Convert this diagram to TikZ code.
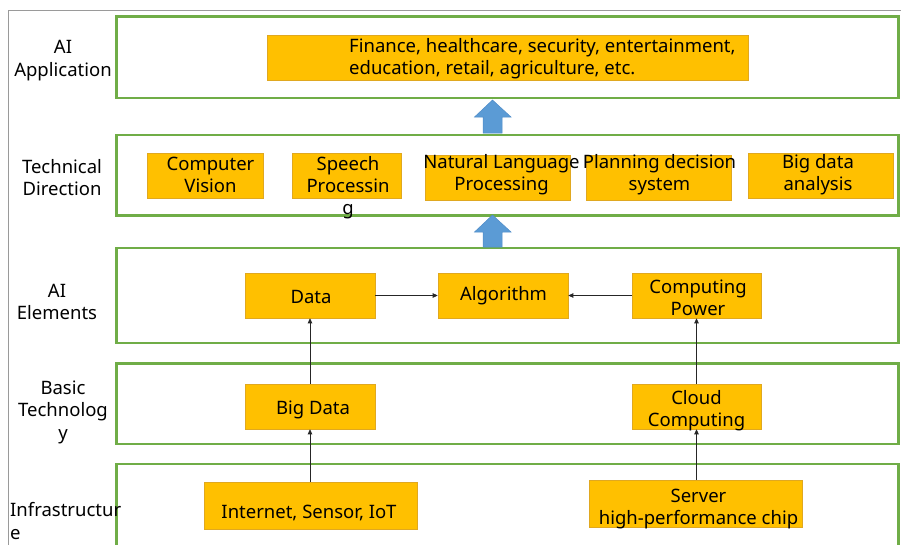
\documentclass[tikz,border=0pt]{standalone}
\usepackage{fontspec}
\setmainfont{Noto Sans}
\usetikzlibrary{arrows.meta}
\definecolor{grn}{HTML}{70AD47}
\definecolor{org}{HTML}{FFC000}
\definecolor{orgline}{HTML}{E0A820}
\definecolor{blu}{HTML}{5B9BD5}
\definecolor{bluline}{HTML}{4F8CC9}
\definecolor{frm}{HTML}{9A9A9A}
\tikzset{
  layer/.style={draw=grn, line width=2.6pt, fill=white},
  obox/.style={draw=orgline, fill=org, line width=0.6pt, inner sep=0pt},
  txt/.style={align=center, inner sep=0pt, font=\fontsize{18.5}{22}\selectfont},
  side/.style={align=center, inner sep=0pt, font=\fontsize{18.5}{22.5}\selectfont},
  conn/.style={draw=black!85, line width=0.7pt, -{Triangle[length=5pt,width=4.5pt]}},
  bigarrow/.style={fill=blu, draw=bluline, line width=0.5pt}
}
\begin{document}
\begin{tikzpicture}[x=1pt,y=-1pt]
\useasboundingbox (0,0) rectangle (901,544);
\clip (0,0) rectangle (901,544);
% frame
\draw[frm, line width=1.3pt] (8.5,550) -- (8.5,10.5) -- (905,10.5);
% layers
\draw[layer] (116.5,16.5) rectangle (898.5,98);
\draw[layer] (116.5,135) rectangle (898.5,215.5);
\draw[layer] (116.5,248) rectangle (898.5,343);
\draw[layer] (116.5,363.5) rectangle (898.5,444);
\draw[layer] (116.5,464) rectangle (898.5,546);
% side labels
\node[side] (lab1) at (63,60.5) {AI\\Application};
\node[side] (lab2) at (62,177.5) {Technical\\Direction};
\node[side] (lab3) at (57,302) {AI\\Elements};
\node[side] (lab4) at (63,412) {Basic\\Technolog\\y};
\node[side, align=left, anchor=west] (lab5) at (10,521) {Infrastructur\\e};
% blue arrows
\coordinate (ba1) at (492.5,100);
\coordinate (ba2) at (492.5,215);
\foreach \c/\b in {ba1/133, ba2/247}{
  \path[bigarrow] (\c) -- ++(18.5,17) -- ++(-9,0) |- ([xshift=-9.5pt]\c |- 0,\b) -- ++(0,0) |- ([xshift=-9pt,yshift=-17pt]\c) -- ++(-9,0) -- cycle;
}
% boxes
\node[obox, minimum width=481pt, minimum height=45pt] (app) at (507.5,57.5) {};
\node[obox, minimum width=116pt, minimum height=45pt] (cv) at (205,175.5) {};
\node[obox, minimum width=109pt, minimum height=45pt] (sp) at (346.5,175.5) {};
\node[obox, minimum width=145pt, minimum height=45pt] (nlp) at (497.5,177.5) {};
\node[obox, minimum width=145pt, minimum height=45pt] (pds) at (658.5,177.5) {};
\node[obox, minimum width=145pt, minimum height=45pt] (bda) at (820.5,175.5) {};
\node[obox, minimum width=130pt, minimum height=45pt] (data) at (310,295.5) {};
\node[obox, minimum width=130pt, minimum height=45pt] (alg) at (503,295.5) {};
\node[obox, minimum width=129pt, minimum height=45pt] (cp) at (696.5,295.5) {};
\node[obox, minimum width=130pt, minimum height=45pt] (bigd) at (310,406.5) {};
\node[obox, minimum width=129pt, minimum height=45pt] (cc) at (696.5,406.5) {};
\node[obox, minimum width=213pt, minimum height=47pt] (inet) at (310.5,505.5) {};
\node[obox, minimum width=213pt, minimum height=47pt] (srv) at (695.5,503.5) {};
% texts
\node[txt, align=left, anchor=west] (appT) at (349,59) {Finance, healthcare, security, entertainment,\\education, retail, agriculture, etc.};
\node[txt] (cvT) at (210.5,175) {Computer\\Vision};
\node[txt] (spT) at (348,188) {Speech\\Processin\\g};
\node[txt] (nlpT) at (501.5,175) {Natural Language\\Processing};
\node[txt] (pdsT) at (659.5,175) {Planning decision\\system};
\node[txt] (bdaT) at (818,175) {Big data\\analysis};
\node[txt] (dataT) at (311,297) {Data};
\node[txt] (algT) at (503.5,296) {Algorithm};
\node[txt] (cpT) at (698,297.5) {Computing\\Power};
\node[txt] (bigdT) at (313,410) {Big Data};
\node[txt] (ccT) at (696.5,410.5) {Cloud\\Computing};
\node[txt] (inetT) at (309,513) {Internet, Sensor, IoT};
\node[txt] (srvT) at (698.5,509.5) {Server\\high-performance chip};
% connectors
\draw[conn] (data.east) -- (alg.west);
\draw[conn] (cp.west) -- (alg.east);
\draw[conn] (bigd.north) -- (data.south);
\draw[conn] (cc.north) -- (cp.south);
\draw[conn] (inet.north -| bigd.south) -- (bigd.south);
\draw[conn] (srv.north -| cc.south) -- (cc.south);
\end{tikzpicture}
\end{document}
